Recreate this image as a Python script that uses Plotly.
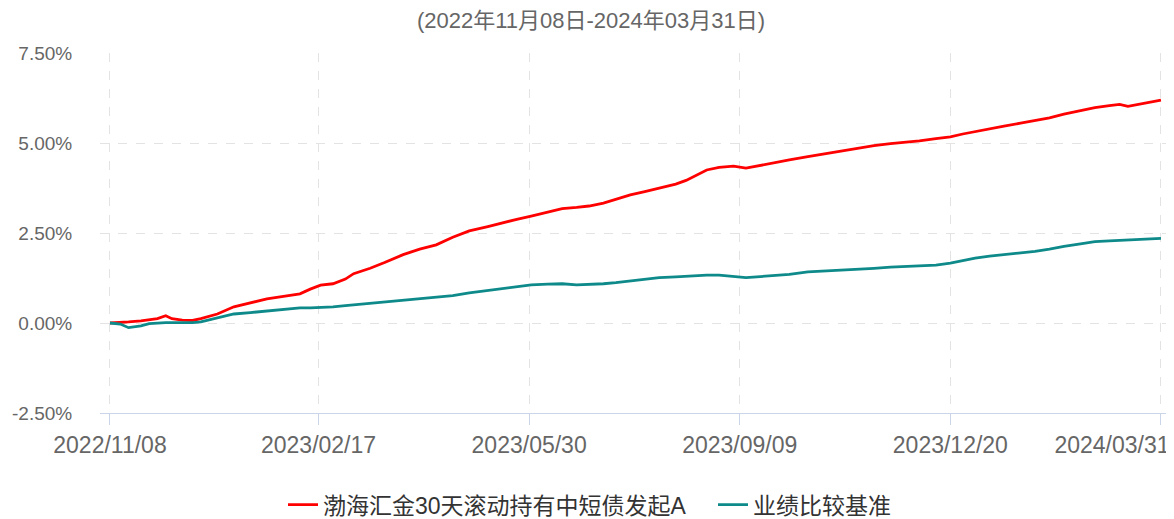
import plotly.graph_objects as go

title_text = "(2022年11月08日-2024年03月31日)"
fund_name = "渤海汇金30天滚动持有中短债发起A"
bench_name = "业绩比较基准"

dates = [
    "2022-11-08", "2022-11-13", "2022-11-17", "2022-11-23", "2022-11-27", "2022-12-01",
    "2022-12-05", "2022-12-08", "2022-12-13", "2022-12-18", "2022-12-22", "2022-12-30",
    "2023-01-07", "2023-01-15", "2023-01-23", "2023-01-31", "2023-02-08", "2023-02-13",
    "2023-02-18", "2023-02-24", "2023-03-02", "2023-03-06", "2023-03-14", "2023-03-21",
    "2023-03-30", "2023-04-07", "2023-04-15", "2023-04-23", "2023-05-01", "2023-05-10",
    "2023-05-17", "2023-05-24", "2023-05-31", "2023-06-08", "2023-06-15", "2023-06-22",
    "2023-06-28", "2023-07-05", "2023-07-11", "2023-07-18", "2023-07-25", "2023-08-01",
    "2023-08-09", "2023-08-14", "2023-08-19", "2023-08-24", "2023-08-30", "2023-09-06",
    "2023-09-12", "2023-09-19", "2023-09-25", "2023-10-03", "2023-10-12", "2023-10-19",
    "2023-10-28", "2023-11-05", "2023-11-13", "2023-11-21", "2023-11-29", "2023-12-05",
    "2023-12-13", "2023-12-20", "2023-12-26", "2024-01-01", "2024-01-08", "2024-01-15",
    "2024-01-23", "2024-01-30", "2024-02-06", "2024-02-13", "2024-02-21", "2024-02-28",
    "2024-03-06", "2024-03-11", "2024-03-15", "2024-03-21", "2024-03-26", "2024-03-31",
]

fund = [
    0.00, 0.01, 0.03, 0.06, 0.10, 0.12,
    0.20, 0.12, 0.08, 0.07, 0.12, 0.25,
    0.45, 0.56, 0.67, 0.74, 0.81, 0.94,
    1.05, 1.09, 1.22, 1.37, 1.52, 1.68,
    1.90, 2.05, 2.17, 2.38, 2.56, 2.68,
    2.79, 2.88, 2.97, 3.08, 3.18, 3.21,
    3.25, 3.33, 3.44, 3.56, 3.65, 3.75,
    3.86, 3.96, 4.10, 4.25, 4.32, 4.36,
    4.30, 4.38, 4.45, 4.53, 4.62, 4.69,
    4.76, 4.85, 4.93, 4.98, 5.02, 5.06,
    5.12, 5.17, 5.25, 5.32, 5.40, 5.47,
    5.55, 5.62, 5.70, 5.80, 5.90, 5.98,
    6.04, 6.07, 6.02, 6.08, 6.13, 6.19,
]

bench = [
    0.00, -0.03, -0.13, -0.08, -0.02, 0.00,
    0.01, 0.01, 0.00, 0.01, 0.03, 0.14,
    0.25, 0.29, 0.33, 0.37, 0.42, 0.42,
    0.43, 0.45, 0.48, 0.50, 0.54, 0.58,
    0.63, 0.66, 0.70, 0.76, 0.84, 0.90,
    0.95, 1.01, 1.06, 1.08, 1.09, 1.06,
    1.07, 1.09, 1.12, 1.17, 1.21, 1.26,
    1.28, 1.30, 1.32, 1.33, 1.33, 1.30,
    1.26, 1.29, 1.31, 1.35, 1.42, 1.44,
    1.46, 1.49, 1.52, 1.55, 1.57, 1.59,
    1.61, 1.66, 1.74, 1.80, 1.86, 1.90,
    1.94, 1.99, 2.05, 2.13, 2.20, 2.26,
    2.28, 2.29, 2.30, 2.31, 2.32, 2.35,
]

x_tick_dates = ["2022-11-08", "2023-02-17", "2023-05-30", "2023-09-09", "2023-12-20", "2024-03-31"]
x_tick_labels = ["2022/11/08", "2023/02/17", "2023/05/30", "2023/09/09", "2023/12/20", "2024/03/31"]
y_ticks = [-2.5, 0.0, 2.5, 5.0, 7.5]
y_tick_labels = ["-2.50%", "0.00%", "2.50%", "5.00%", "7.50%"]

FONT = "Liberation Sans, Arial, Noto Sans CJK SC, sans-serif"
x_range = ["2022-11-03 04:00", "2024-04-04 09:00"]

fig = go.Figure()
fig.add_trace(go.Scatter(x=dates, y=fund, mode="lines", name=fund_name,
                         line=dict(color="#ff0000", width=2.8)))
fig.add_trace(go.Scatter(x=dates, y=bench, mode="lines", name=bench_name,
                         line=dict(color="#0e8a8a", width=2.8)))
# invisible trace carrying the overlay axis for the last tick label
fig.add_trace(go.Scatter(x=[x_tick_dates[-1]], y=[None], xaxis="x2", showlegend=False,
                         hoverinfo="skip", mode="lines"))

grid = "#e3e3e3"
axis_col = "#cad5ea"

fig.update_layout(
    width=1166, height=511,
    margin=dict(l=92, r=4, t=45, b=106),
    paper_bgcolor="white", plot_bgcolor="white",
    font=dict(family=FONT, color="#666666", size=18),
    title=dict(text=title_text, x=0.5, xanchor="center", y=0.9765, yanchor="middle",
               font=dict(family=FONT, size=22, color="#666666")),
    xaxis=dict(
        type="date", range=x_range,
        tickvals=x_tick_dates[:-1], ticktext=x_tick_labels[:-1],
        showgrid=True, gridcolor=grid, griddash="dash", gridwidth=1,
        showline=True, linecolor=axis_col, linewidth=1,
        ticks="outside", ticklen=11, tickcolor=axis_col, tickwidth=1,
        tickfont=dict(size=23, color="#666666"),
        zeroline=False,
    ),
    xaxis2=dict(
        type="date", range=x_range, overlaying="x", side="bottom", matches="x",
        tickvals=[x_tick_dates[-1]], ticktext=[x_tick_labels[-1]],
        ticklabelshift=-49,
        showgrid=True, gridcolor=grid, griddash="dash", gridwidth=1,
        showline=False,
        ticks="outside", ticklen=11, tickcolor=axis_col, tickwidth=1,
        tickfont=dict(size=23, color="#666666"),
        zeroline=False,
    ),
    yaxis=dict(
        range=[-2.5, 7.5], tickvals=y_ticks, ticktext=y_tick_labels,
        showgrid=True, gridcolor=grid, griddash="dash", gridwidth=1,
        showline=False, zeroline=False,
        ticks="outside", ticklen=23, tickcolor="rgba(0,0,0,0)",
        tickfont=dict(size=19, color="#666666"),
    ),
    legend=dict(
        orientation="h", xref="container", yref="container",
        x=(283 - 8) / 1166, xanchor="left", y=0.028, yanchor="middle",
        font=dict(size=23, color="#333333"), itemwidth=30,
        entrywidthmode="pixels", entrywidth=385,
    ),
    showlegend=True,
)

fig.write_html("out.html")
